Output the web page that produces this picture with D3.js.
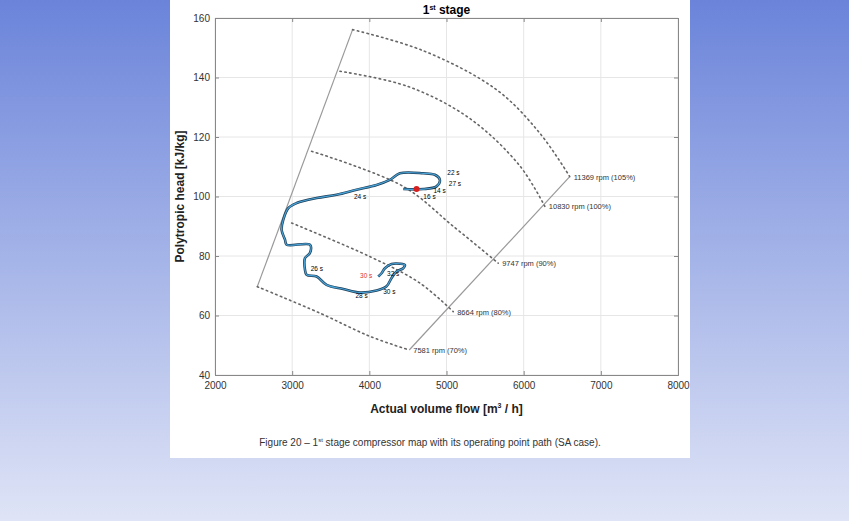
<!DOCTYPE html>
<html><head><meta charset="utf-8">
<script src="https://cdn.jsdelivr.net/npm/d3@7"></script>
<style>
body{margin:0;width:849px;height:521px;overflow:hidden;background:linear-gradient(#6b84da,#dfe4f6);}
svg{display:block}
</style></head><body>
<svg id="svg" width="849" height="521"></svg>
<script>
const xTicks = [2000, 3000, 4000, 5000, 6000, 7000, 8000];
const yTicks = [40, 60, 80, 100, 120, 140, 160];

// speed lines, surge side to choke side
const speedNames = ["11369 rpm (105%)", "10830 rpm (100%)", "9747 rpm (90%)", "8664 rpm (80%)", "7581 rpm (70%)"];
const speedLines = [
  [[3783, 156.1], [4700, 149], [5648, 135.9], [6209, 121.3], [6597, 106.7]],
  [[3619, 142.1], [4500, 137], [5303, 126.2], [5950, 110.3], [6274, 96.7]],
  [[3252, 115.2], [4439, 103.4], [5087, 90], [5670, 77.6]],
  [[2993, 91.1], [4007, 79.8], [4655, 70.9], [5087, 61.3]],
  [[2548, 69.7], [3360, 60.8], [4007, 53], [4517, 48.4]]
];
const surgeLine = [[2548, 69.7], [3783, 156.1]];
const chokeLine = [[4517, 48.4], [6597, 106.7]];

// operating point path
const opPath = [
  [4439, 102.5], [4698, 102.5], [4871, 103.4], [4914, 105.6], [4849, 107.3], [4698, 107.8],
  [4396, 107.8], [4266, 105.6], [4094, 103.9], [3835, 102.3], [3576, 100.6], [3317, 99.5],
  [3058, 97.8], [2950, 96.1], [2885, 92.2], [2863, 88.8], [2907, 85.5], [2928, 83.8],
  [3230, 83.8], [3230, 81.0], [3166, 79.3], [3166, 75.4], [3187, 73.7], [3317, 73.1],
  [3446, 70.3], [3662, 68.9], [3878, 67.7], [4094, 68.4], [4223, 69.8], [4288, 72.6],
  [4353, 74.8], [4439, 75.9], [4461, 77.0], [4396, 77.4], [4288, 77.3], [4202, 75.9],
  [4158, 74.2], [4115, 73.1]
];
const timeLabels = [
  ["22 s", 5010, 107.3, "#000"], ["27 s", 5030, 103.4, "#000"], ["14 s", 4830, 101.2, "#000"],
  ["16 s", 4700, 99.2, "#000"], ["24 s", 3800, 99.0, "#000"], ["26 s", 3240, 74.8, "#000"],
  ["30 s", 3880, 72.6, "#e03030"], ["32 s", 4230, 73.2, "#000"], ["30 s", 4180, 67.2, "#000"],
  ["28 s", 3820, 65.8, "#000"]
];
const redDot = [4612, 102.5];

const svg = d3.select("#svg");
svg.append("rect").attr("x", 170).attr("y", 0).attr("width", 520).attr("height", 458).attr("fill", "#fff");

const x = d3.scaleLinear().domain([2000, 8000]).range([215, 678]);
const y = d3.scaleLinear().domain([40, 160]).range([375, 18]);

const g = svg.append("g");
g.selectAll(".gx").data(xTicks).join("line")
  .attr("x1", d => x(d)).attr("x2", d => x(d)).attr("y1", y(40)).attr("y2", y(160))
  .attr("stroke", "#e6e6e6");
g.selectAll(".gy").data(yTicks).join("line")
  .attr("y1", d => y(d)).attr("y2", d => y(d)).attr("x1", x(2000)).attr("x2", x(8000))
  .attr("stroke", "#e6e6e6");

const fmt = d => d;
g.append("g").attr("transform", `translate(0,${y(40)})`)
  .call(d3.axisBottom(x).tickValues(xTicks).tickSize(-4).tickPadding(7).tickFormat(fmt))
  .call(a => a.selectAll("text").attr("font-size", 10).attr("font-family", "Liberation Sans, Arial").attr("fill", "#333"));
g.append("g").attr("transform", `translate(${x(2000)},0)`)
  .call(d3.axisLeft(y).tickValues(yTicks).tickSize(-4).tickPadding(5).tickFormat(fmt))
  .call(a => a.selectAll("text").attr("font-size", 10).attr("font-family", "Liberation Sans, Arial").attr("fill", "#333"));
g.append("g").attr("transform", `translate(0,${y(160)})`)
  .call(d3.axisTop(x).tickValues(xTicks).tickSize(-4).tickFormat(""));
g.append("g").attr("transform", `translate(${x(8000)},0)`)
  .call(d3.axisRight(y).tickValues(yTicks).tickSize(-4).tickFormat(""));
g.selectAll(".domain, .tick line").attr("stroke", "#888");

const line = d3.line().x(d => x(d[0])).y(d => y(d[1]));
const smooth = d3.line().x(d => x(d[0])).y(d => y(d[1])).curve(d3.curveCatmullRom);

[surgeLine, chokeLine].forEach(l => g.append("path").attr("d", line(l))
  .attr("fill", "none").attr("stroke", "#999").attr("stroke-width", 1.2));

g.selectAll(".speed").data(speedLines).join("path")
  .attr("d", smooth).attr("fill", "none").attr("stroke", "#666")
  .attr("stroke-width", 1.6).attr("stroke-dasharray", "1.5,3.5").attr("stroke-linecap", "round");

g.selectAll(".sl").data(speedLines).join("text")
  .attr("x", d => x(d[d.length - 1][0]) + 4).attr("y", d => y(d[d.length - 1][1]) + 3)
  .text((d, i) => speedNames[i]).attr("font-size", 7.5).attr("font-family", "Liberation Sans, Arial").attr("fill", "#333");

g.append("path").attr("d", smooth(opPath)).attr("fill", "none").attr("stroke", "#1d3f5a").attr("stroke-width", 2.6);
g.append("path").attr("d", smooth(opPath)).attr("fill", "none").attr("stroke", "#4aa3d6").attr("stroke-width", 1.2);

g.append("circle").attr("cx", x(redDot[0])).attr("cy", y(redDot[1])).attr("r", 3).attr("fill", "#d42020");

g.selectAll(".tl").data(timeLabels).join("text")
  .attr("x", d => x(d[1])).attr("y", d => y(d[2]))
  .text(d => d[0]).attr("fill", d => d[3])
  .attr("font-size", 6.5).attr("font-family", "Liberation Sans, Arial");

const t = svg.append("text").attr("x", x(5000)).attr("y", 14).attr("text-anchor", "middle")
  .attr("font-size", 12).attr("font-weight", "bold").attr("font-family", "Liberation Sans, Arial");
t.append("tspan").text("1");
t.append("tspan").text("st").attr("font-size", 7).attr("dy", -4);
t.append("tspan").text(" stage").attr("dy", 4);

const xl = svg.append("text").attr("x", x(5000)).attr("y", 413).attr("text-anchor", "middle")
  .attr("font-size", 12).attr("font-weight", "bold").attr("font-family", "Liberation Sans, Arial").attr("fill", "#222");
xl.append("tspan").text("Actual volume flow [m");
xl.append("tspan").text("3").attr("font-size", 7).attr("dy", -5);
xl.append("tspan").text(" / h]").attr("dy", 5);

svg.append("text").attr("transform", `translate(184,${y(100)}) rotate(-90)`).attr("text-anchor", "middle")
  .attr("font-size", 12).attr("font-weight", "bold").attr("font-family", "Liberation Sans, Arial").attr("fill", "#222")
  .text("Polytropic head [kJ/kg]");

const cap = svg.append("text").attr("x", 430).attr("y", 446).attr("text-anchor", "middle")
  .attr("font-size", 10).attr("font-family", "Liberation Sans, Arial").attr("fill", "#333");
cap.append("tspan").text("Figure 20 – 1");
cap.append("tspan").text("st").attr("font-size", 6).attr("dy", -4);
cap.append("tspan").text(" stage compressor map with its operating point path (SA case).").attr("dy", 4);
</script>
</body></html>
